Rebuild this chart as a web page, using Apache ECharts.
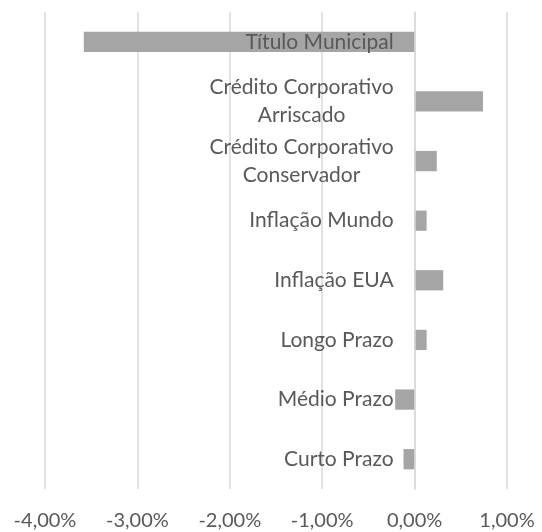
<!DOCTYPE html>
<html>
<head>
<meta charset="utf-8">
<script src="https://cdn.jsdelivr.net/npm/echarts@6/dist/echarts.min.js"></script>
<style>html,body{margin:0;padding:0;background:#fff}#c{width:542px;height:532px}</style>
</head>
<body>
<div id="c"></div>
<script>
var categories = ['Título Municipal', 'Crédito Corporativo\nArriscado', 'Crédito Corporativo\nConservador', 'Inflação Mundo', 'Inflação EUA', 'Longo Prazo', 'Médio Prazo', 'Curto Prazo'];
var values = [-3.58, 0.74, 0.24, 0.13, 0.31, 0.13, -0.21, -0.12];
var xMin = -4, xMax = 1, xStep = 1;

var chart = echarts.init(document.getElementById('c'));
var FONT = 'Lato';
var GRID_LEFT = 45;
chart.setOption({
  animation: false,
  grid: { left: GRID_LEFT, right: 35, top: 12, bottom: 43, containLabel: false, outerBoundsMode: 'none' },
  xAxis: {
    type: 'value', min: xMin, max: xMax, interval: xStep,
    axisLine: { show: false }, axisTick: { show: false },
    splitLine: { show: true, lineStyle: { color: '#d9d9d9', width: 1.5 } },
    axisLabel: {
      margin: 22, color: '#595959', fontSize: 20, fontFamily: FONT, hideOverlap: false,
      formatter: function (v) { return v.toFixed(2).replace('.', ',') + '%'; }
    }
  },
  yAxis: {
    type: 'category', inverse: true, data: categories, z: 10,
    axisLine: { show: true, onZero: true, onZeroAxisIndex: 0, lineStyle: { color: '#d9d9d9', width: 1.5 } },
    axisTick: { show: false },
    axisLabel: {
      margin: 21, color: '#595959', fontSize: 21, fontFamily: FONT, lineHeight: 28, hideOverlap: false,
      formatter: function (v) {
        return v.split('\n').map(function (s) { return '{c|' + s + '}'; }).join('\n');
      },
      rich: { c: { align: 'center', color: '#595959', fontSize: 21, fontFamily: FONT, lineHeight: 28 } }
    }
  },
  series: [{
    type: 'bar', data: values, barWidth: '34%',
    itemStyle: { color: '#a5a5a5' }
  }]
});
// place the category axis on the value axis' zero
var zeroPx = chart.convertToPixel({ xAxisIndex: 0 }, 0);
var leftPx = chart.convertToPixel({ xAxisIndex: 0 }, xMin);
chart.setOption({ yAxis: { offset: -(zeroPx - leftPx) } });
</script>
</body>
</html>
